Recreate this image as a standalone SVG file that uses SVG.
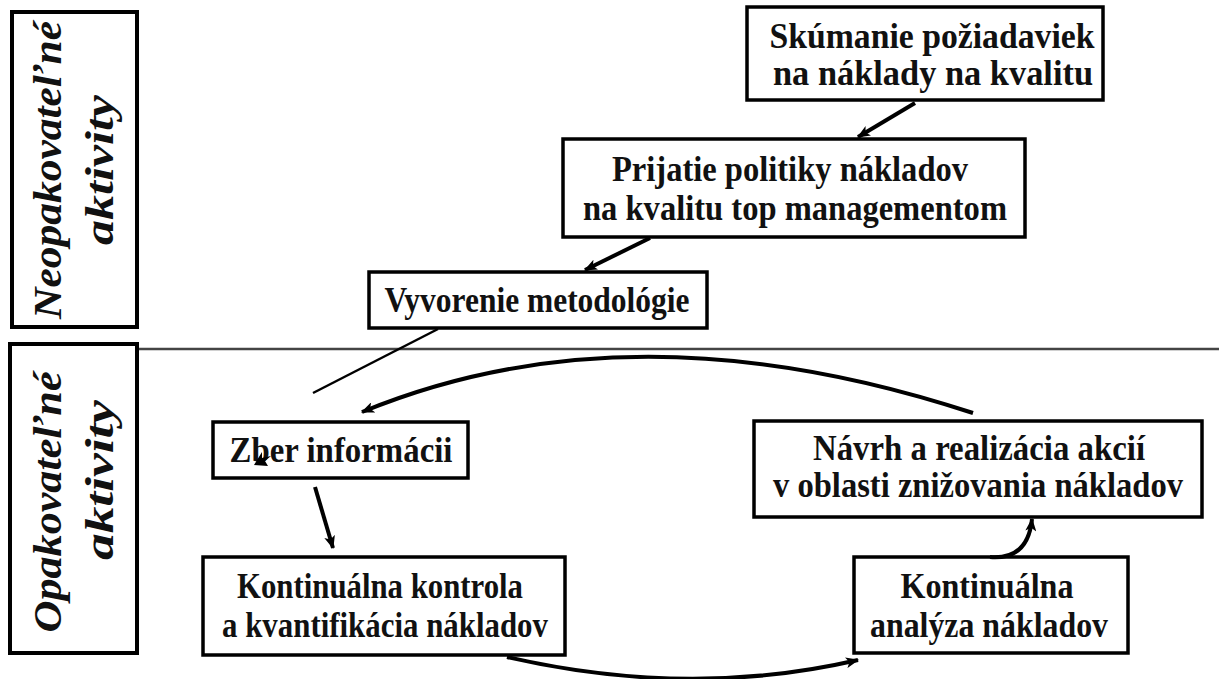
<svg xmlns="http://www.w3.org/2000/svg" width="1219" height="679" viewBox="0 0 1219 679">
<style>
.box{fill:#fff;stroke:#000;stroke-width:3.5}
.side{fill:#fff;stroke:#000;stroke-width:4}
.t{font-family:"Liberation Serif","Times New Roman",serif;font-weight:bold;font-size:35px;fill:#111;text-anchor:middle}
.s{font-family:"Liberation Serif","Times New Roman",serif;font-weight:bold;font-style:italic;font-size:41px;fill:#111;text-anchor:middle}
.c{fill:none;stroke:#000;stroke-width:4}
.thin{fill:none;stroke:#000;stroke-width:2.5}
</style>
<defs>
<marker id="ah" viewBox="0 0 12 10" refX="11" refY="5" markerWidth="14" markerHeight="11" markerUnits="userSpaceOnUse" orient="auto">
<path d="M0,0 L12,5 L0,10 L3,5 Z" fill="#000"/>
</marker>
</defs>
<rect width="1219" height="679" fill="#fff"/>
<line x1="33" y1="349" x2="1219" y2="349" stroke="#444" stroke-width="2.5"/>
<g id="side-neopakovatelne">
<rect class="side" x="12" y="12" width="125" height="315"/>
<text class="s" transform="translate(61,170) rotate(-90)" textLength="298" lengthAdjust="spacingAndGlyphs">Neopakovateľné</text>
<text class="s" transform="translate(113,170) rotate(-90)" textLength="150" lengthAdjust="spacingAndGlyphs">aktivity</text>
</g>
<g id="side-opakovatelne">
<rect class="side" x="10" y="344" width="127" height="309"/>
<text class="s" transform="translate(61,502) rotate(-90)" textLength="261" lengthAdjust="spacingAndGlyphs">Opakovateľné</text>
<text class="s" transform="translate(113,480) rotate(-90)" textLength="160" lengthAdjust="spacingAndGlyphs">aktivity</text>
</g>
<g id="node-skumanie">
<rect class="box" x="747" y="7" width="356" height="93"/>
<text class="t" x="932" y="48" textLength="325" lengthAdjust="spacingAndGlyphs">Skúmanie požiadaviek</text>
<text class="t" x="933" y="85" textLength="320" lengthAdjust="spacingAndGlyphs">na náklady na kvalitu</text>
</g>
<g id="node-prijatie">
<rect class="box" x="563" y="139" width="462" height="98"/>
<text class="t" x="790" y="181" textLength="356" lengthAdjust="spacingAndGlyphs">Prijatie politiky nákladov</text>
<text class="t" x="795" y="220" textLength="424" lengthAdjust="spacingAndGlyphs">na kvalitu top managementom</text>
</g>
<g id="node-vyvorenie">
<rect class="box" x="369" y="272" width="338" height="56"/>
<text class="t" x="537" y="312" textLength="305" lengthAdjust="spacingAndGlyphs">Vyvorenie metodológie</text>
</g>
<g id="node-zber">
<rect class="box" x="213" y="422" width="255" height="56"/>
<text class="t" x="341" y="462" textLength="223" lengthAdjust="spacingAndGlyphs">Zber informácii</text>
</g>
<g id="node-navrh">
<rect class="box" x="754" y="421" width="448" height="96"/>
<text class="t" x="979" y="460" textLength="332" lengthAdjust="spacingAndGlyphs">Návrh a realizácia akcií</text>
<text class="t" x="978" y="497" textLength="410" lengthAdjust="spacingAndGlyphs">v oblasti znižovania nákladov</text>
</g>
<g id="node-kontrola">
<rect class="box" x="203" y="557" width="362" height="98"/>
<text class="t" x="380" y="598" textLength="286" lengthAdjust="spacingAndGlyphs">Kontinuálna kontrola</text>
<text class="t" x="385" y="637" textLength="326" lengthAdjust="spacingAndGlyphs">a kvantifikácia nákladov</text>
</g>
<g id="node-analyza">
<rect class="box" x="854" y="557" width="274" height="96"/>
<text class="t" x="987" y="598" textLength="173" lengthAdjust="spacingAndGlyphs">Kontinuálna</text>
<text class="t" x="989" y="637" textLength="238" lengthAdjust="spacingAndGlyphs">analýza nákladov</text>
</g>
<g id="connectors">
<line class="c" x1="915" y1="103" x2="858" y2="137" marker-end="url(#ah)"/>
<line class="c" x1="650" y1="238" x2="585" y2="270" marker-end="url(#ah)"/>
<line class="thin" x1="438" y1="329" x2="313" y2="393"/>
<path d="M254,465 L262,452 L262,458 L271,456 L265,461 L268,466 Z" fill="#000"/>
<path class="c" d="M973,413 Q632,301 362,412" marker-end="url(#ah)"/>
<line class="c" x1="315" y1="487" x2="333" y2="548" marker-end="url(#ah)"/>
<path class="c" d="M507,657 Q690,699 858,660" marker-end="url(#ah)"/>
<path class="c" d="M990,557 Q1028,560 1032,519" marker-end="url(#ah)"/>
</g>
</svg>
